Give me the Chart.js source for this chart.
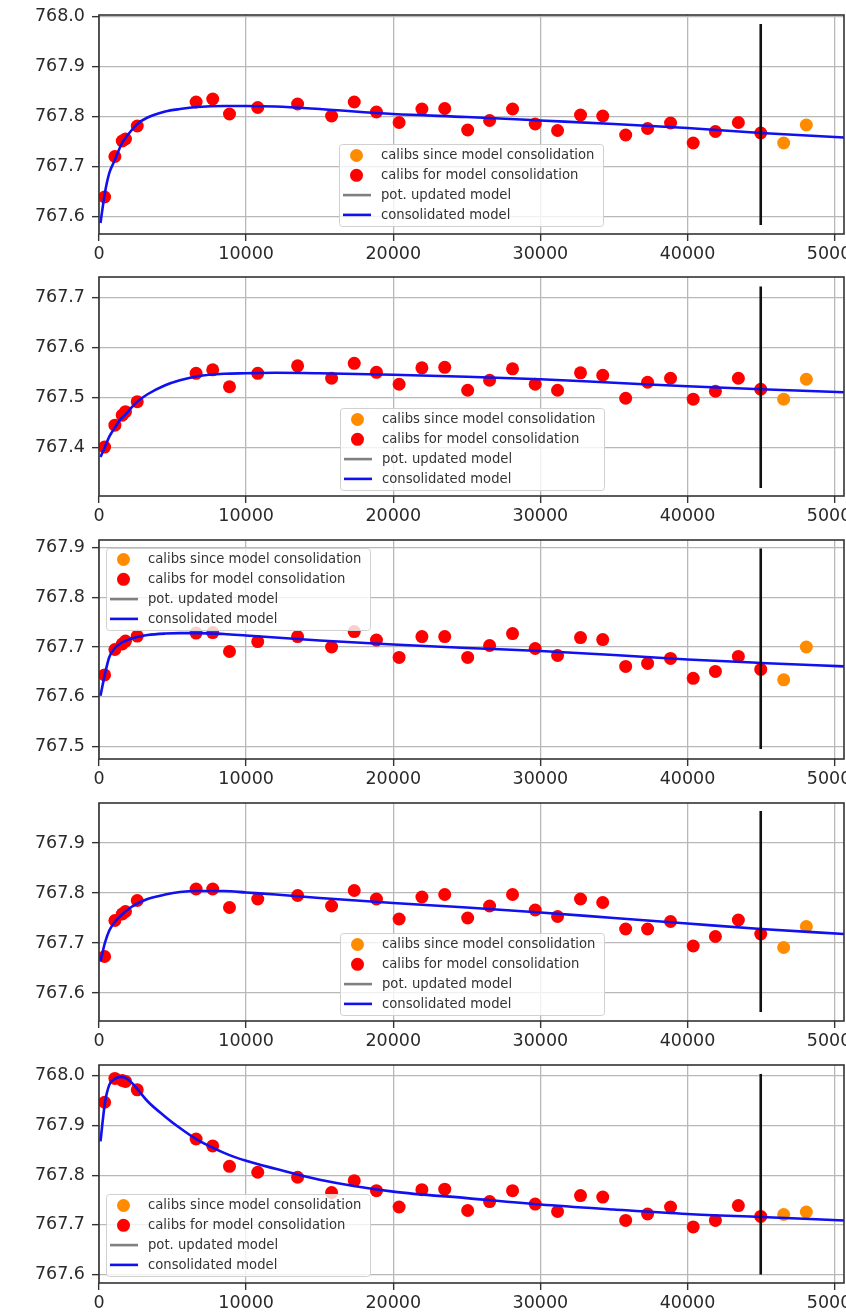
<!DOCTYPE html>
<html>
<head>
<meta charset="utf-8">
<script src="https://cdn.jsdelivr.net/npm/chart.js@4.4.1/dist/chart.umd.min.js"></script>
<style>
  html, body { margin: 0; padding: 0; background: #fff; overflow: hidden; }
  body { width: 846px; height: 1314px; position: relative; }
  canvas.panel { position: absolute; left: 0; }
</style>
</head>
<body>
<canvas id="panel0" class="panel"></canvas>
<canvas id="panel1" class="panel"></canvas>
<canvas id="panel2" class="panel"></canvas>
<canvas id="panel3" class="panel"></canvas>
<canvas id="panel4" class="panel"></canvas>
<script>
// calibration times (shared by all panels)
const calibX = [380, 1080, 1580, 1800, 2600, 6600, 7730, 8870, 10790, 13500, 15810, 17350, 18860, 20400, 21950,
  23500, 25060, 26550, 28110, 29650, 31170, 32730, 34240, 35800, 37290, 38850, 40390, 41900, 43460, 44980];
const newCalibX = [46540, 48080];

// model curve sample positions
const modelX = [100, 400, 700, 1080, 1500, 1800, 2200, 2600, 3300, 4500, 5500, 6700, 8500, 10000, 12000,
  15000, 20000, 25000, 30000, 35000, 40000, 45000, 50640];

const calibs1 = [767.639, 767.720, 767.751, 767.755, 767.781, 767.829, 767.835, 767.805, 767.818, 767.825,
  767.801, 767.829, 767.809, 767.788, 767.815, 767.816, 767.773, 767.792, 767.815, 767.785,
  767.772, 767.803, 767.801, 767.763, 767.776, 767.787, 767.747, 767.770, 767.788, 767.767];
const newCalibs1 = [767.747, 767.783];
const model1 = [767.587, 767.647, 767.687, 767.713, 767.743, 767.757, 767.772, 767.785, 767.798, 767.810, 767.815,
  767.819, 767.821, 767.821, 767.820, 767.815, 767.805, 767.799, 767.792, 767.785, 767.777, 767.767, 767.758];

const calibs2 = [767.401, 767.445, 767.465, 767.472, 767.492, 767.549, 767.556, 767.522, 767.549, 767.564,
  767.539, 767.569, 767.551, 767.527, 767.560, 767.561, 767.515, 767.535, 767.558, 767.527,
  767.515, 767.550, 767.545, 767.499, 767.531, 767.539, 767.497, 767.513, 767.539, 767.517];
const newCalibs2 = [767.497, 767.537];
const model2 = [767.381, 767.401, 767.422, 767.440, 767.458, 767.466, 767.480, 767.492, 767.507, 767.525, 767.535,
  767.543, 767.548, 767.549, 767.550, 767.549, 767.546, 767.542, 767.537, 767.530, 767.523, 767.517, 767.511];

const calibs3 = [767.644, 767.695, 767.706, 767.712, 767.722, 767.728, 767.729, 767.691, 767.711, 767.721,
  767.700, 767.731, 767.714, 767.679, 767.721, 767.721, 767.679, 767.703, 767.727, 767.697,
  767.683, 767.719, 767.715, 767.661, 767.667, 767.677, 767.637, 767.651, 767.681, 767.655];
const newCalibs3 = [767.634, 767.700];
const model3 = [767.602, 767.645, 767.680, 767.698, 767.708, 767.712, 767.717, 767.720, 767.724, 767.727, 767.728,
  767.728, 767.726, 767.723, 767.719, 767.713, 767.705, 767.698, 767.692, 767.684, 767.675, 767.668, 767.661];

const calibs4 = [767.673, 767.745, 767.758, 767.763, 767.785, 767.808, 767.808, 767.771, 767.788, 767.795,
  767.774, 767.805, 767.788, 767.748, 767.792, 767.797, 767.750, 767.774, 767.797, 767.766,
  767.753, 767.788, 767.781, 767.728, 767.728, 767.743, 767.694, 767.713, 767.746, 767.718];
const newCalibs4 = [767.691, 767.733];
const model4 = [767.663, 767.700, 767.725, 767.742, 767.755, 767.763, 767.772, 767.779, 767.788, 767.797, 767.802,
  767.804, 767.804, 767.801, 767.797, 767.790, 767.780, 767.771, 767.761, 767.750, 767.739, 767.728, 767.718];

const calibs5 = [767.947, 767.995, 767.991, 767.989, 767.972, 767.873, 767.859, 767.818, 767.806, 767.796,
  767.765, 767.789, 767.769, 767.736, 767.771, 767.772, 767.729, 767.747, 767.769, 767.742,
  767.727, 767.759, 767.756, 767.709, 767.722, 767.736, 767.696, 767.709, 767.739, 767.717];
const newCalibs5 = [767.721, 767.726];
const model5 = [767.868, 767.945, 767.982, 767.994, 767.998, 767.996, 767.987, 767.974, 767.949, 767.918, 767.895,
  767.871, 767.845, 767.829, 767.813, 767.791, 767.767, 767.754, 767.741, 767.731, 767.722, 767.716, 767.709];

// consolidation marker (vertical line) and its extent per panel
const markerX = 44980;
const markerSpans = [[767.583, 767.985], [767.319, 767.723], [767.495, 767.898], [767.562, 767.964], [767.600, 768.004]];

const xTicks = [0, 10000, 20000, 30000, 40000, 50000];
const yTicks1 = [767.6, 767.7, 767.8, 767.9, 768.0];
const yTicks2 = [767.4, 767.5, 767.6, 767.7];
const yTicks3 = [767.5, 767.6, 767.7, 767.8, 767.9];
const yTicks4 = [767.6, 767.7, 767.8, 767.9];
const yTicks5 = [767.6, 767.7, 767.8, 767.9, 768.0];

const seriesLabels = ['calibs since model consolidation', 'calibs for model consolidation', 'pot. updated model', 'consolidated model'];

// panel placement: plot area top/bottom in page pixels, y limits, legend box offset inside plot area
const panels = [
  { top: 15, bottom: 234, yMin: 767.565, yMax: 768.003, legend: [240, 129], calibs: calibs1, newCalibs: newCalibs1, model: model1, yTicks: yTicks1 },
  { top: 277, bottom: 496, yMin: 767.303, yMax: 767.742, legend: [241, 131], calibs: calibs2, newCalibs: newCalibs2, model: model2, yTicks: yTicks2 },
  { top: 540, bottom: 759, yMin: 767.475, yMax: 767.915, legend: [7, 8], calibs: calibs3, newCalibs: newCalibs3, model: model3, yTicks: yTicks3 },
  { top: 803, bottom: 1021, yMin: 767.544, yMax: 767.980, legend: [241, 130], calibs: calibs4, newCalibs: newCalibs4, model: model4, yTicks: yTicks4 },
  { top: 1065, bottom: 1283, yMin: 767.583, yMax: 768.022, legend: [7, 129], calibs: calibs5, newCalibs: newCalibs5, model: model5, yTicks: yTicks5 }
];

Chart.defaults.font.family = '"DejaVu Sans", sans-serif';

const PAD_TOP = 20;
const X_AXIS_H = 32;
const CANVAS_W = 880;

function toPoints(xs, ys) {
  return xs.map((x, i) => ({ x: x, y: ys[i] }));
}

const framePlugin = {
  id: 'frame',
  afterDraw(chart, args, opts) {
    const { ctx, chartArea: a } = chart;
    ctx.save();
    ctx.strokeStyle = '#333';
    ctx.lineWidth = 1.6;
    ctx.strokeRect(a.left, a.top, a.right - a.left, a.bottom - a.top);

    // legend box, matplotlib style
    const x0 = a.left + opts.x;
    const y0 = a.top + opts.y;
    const w = 264, h = 82;
    ctx.beginPath();
    ctx.roundRect(x0 + 0.5, y0 + 0.5, w, h, 3);
    ctx.fillStyle = 'rgba(255,255,255,0.8)';
    ctx.fill();
    ctx.strokeStyle = '#d0d0d0';
    ctx.lineWidth = 1;
    ctx.stroke();

    const items = chart.data.datasets.filter(d => d.label);
    ctx.font = '13.2px "DejaVu Sans"';
    ctx.textBaseline = 'middle';
    items.forEach((d, i) => {
      const cy = y0 + 11.5 + i * 19.8;
      if (d.showLine === false) {
        ctx.beginPath();
        ctx.arc(x0 + 17.5, cy, d.pointRadius, 0, Math.PI * 2);
        ctx.fillStyle = d.backgroundColor;
        ctx.fill();
      } else {
        ctx.beginPath();
        ctx.moveTo(x0 + 4, cy);
        ctx.lineTo(x0 + 32, cy);
        ctx.strokeStyle = d.borderColor;
        ctx.lineWidth = d.borderWidth;
        ctx.stroke();
      }
      ctx.fillStyle = '#333';
      ctx.fillText(d.label, x0 + 42, cy + 0.5);
    });
    ctx.restore();
  }
};

function makePanel(idx, p) {
  const canvas = document.getElementById('panel' + idx);
  const height = PAD_TOP + (p.bottom - p.top) + X_AXIS_H;
  canvas.width = CANVAS_W;
  canvas.height = height;
  canvas.style.top = (p.top - PAD_TOP) + 'px';

  const span = markerSpans[idx];
  const gridOpts = { color: '#b8b8b8', lineWidth: 1.3, tickColor: '#333', tickLength: 7, tickWidth: 1.4 };

  return new Chart(canvas.getContext('2d'), {
    type: 'line',
    data: {
      datasets: [
        {
          label: seriesLabels[0],
          data: toPoints(newCalibX, p.newCalibs),
          showLine: false,
          backgroundColor: '#ff8c00',
          pointBackgroundColor: '#ff8c00',
          pointBorderWidth: 0,
          pointRadius: 6.5,
          order: 3
        },
        {
          label: seriesLabels[1],
          data: toPoints(calibX, p.calibs),
          showLine: false,
          backgroundColor: '#ff0000',
          pointBackgroundColor: '#ff0000',
          pointBorderWidth: 0,
          pointRadius: 6.5,
          order: 2
        },
        {
          label: seriesLabels[2],
          data: [],
          borderColor: '#808080',
          borderWidth: 2.6,
          pointRadius: 0,
          order: 4
        },
        {
          label: seriesLabels[3],
          data: toPoints(modelX, p.model),
          borderColor: '#1010f0',
          borderWidth: 2.6,
          pointRadius: 0,
          cubicInterpolationMode: 'monotone',
          order: 1
        },
        {
          label: '',
          data: [{ x: markerX, y: span[0] }, { x: markerX, y: span[1] }],
          borderColor: '#111',
          borderWidth: 2.6,
          pointRadius: 0,
          order: 0
        }
      ]
    },
    options: {
      responsive: false,
      animation: false,
      events: [],
      layout: { padding: { top: PAD_TOP, right: 36, bottom: 0, left: 0 } },
      scales: {
        x: {
          type: 'linear',
          min: 0,
          max: 50640,
          afterBuildTicks: s => { s.ticks = xTicks.map(v => ({ value: v })); },
          afterFit: s => { s.height = X_AXIS_H; },
          grid: gridOpts,
          border: { display: false },
          ticks: { color: '#2a2a2a', font: { size: 17.5 }, padding: 3, maxRotation: 0, autoSkip: false, callback: v => String(v) }
        },
        y: {
          type: 'linear',
          min: p.yMin,
          max: p.yMax,
          afterBuildTicks: s => { s.ticks = p.yTicks.map(v => ({ value: v })); },
          afterFit: s => { s.width = 99; },
          grid: gridOpts,
          border: { display: false },
          ticks: { color: '#2a2a2a', font: { size: 17.5 }, padding: 7, callback: v => Number(v).toFixed(1) }
        }
      },
      plugins: {
        legend: { display: false },
        tooltip: { enabled: false },
        frame: { x: p.legend[0], y: p.legend[1] }
      }
    },
    plugins: [framePlugin]
  });
}

panels.forEach((p, i) => makePanel(i, p));
</script>
</body>
</html>
